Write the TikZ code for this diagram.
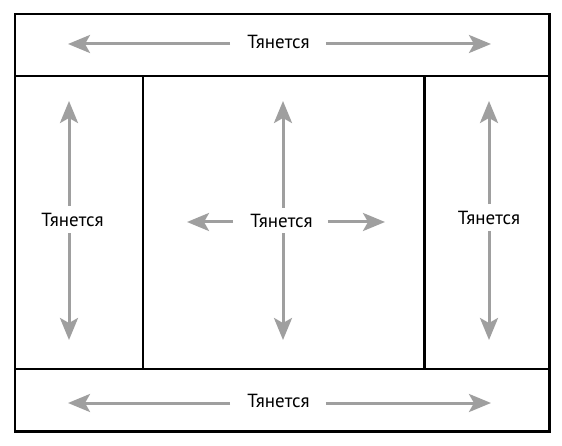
\documentclass[tikz,border=0pt]{standalone}
\usepackage{fontspec}
\setmainfont{PT Sans}
\usetikzlibrary{arrows.meta}
\begin{document}
\begin{tikzpicture}[x=1pt,y=-1pt,
  frame/.style={line width=2.6pt,black},
  stretch/.style={draw=gray!75,line width=3pt,-{Stealth[length=22pt,width=18pt,inset=5pt]}},
  lbl/.style={font=\fontsize{19}{22}\selectfont,inner sep=0pt,text=black}]
\useasboundingbox (0,0) rectangle (562,446);
% frames
\draw[frame] (15,14) rectangle (549.5,431.5);
\draw[frame] (15,76) -- (549.5,76);
\draw[frame] (15,369) -- (549.5,369);
\draw[frame] (143,76) -- (143,369);
\draw[frame] (424.5,76) -- (424.5,369);
% top
\node[lbl] (t) at (278.5,41.5) {Тянется};
\coordinate (tl) at (68,44);
\coordinate (tr) at (491,44);
\draw[stretch] ([xshift=-17pt]t.west |- tl) -- (tl);
\draw[stretch] ([xshift=16pt]t.east |- tr) -- (tr);
% bottom
\node[lbl] (b) at (278.5,400.5) {Тянется};
\coordinate (bl) at (68,403);
\coordinate (br) at (491,403);
\draw[stretch] ([xshift=-17pt]b.west |- bl) -- (bl);
\draw[stretch] ([xshift=16pt]b.east |- br) -- (br);
% left
\node[lbl] (l) at (72.5,219.5) {Тянется};
\coordinate (lt) at (69,101);
\coordinate (lb) at (69,340);
\draw[stretch] ([yshift=7pt]l.north -| lt) -- (lt);
\draw[stretch] ([yshift=-7pt]l.south -| lb) -- (lb);
% right
\node[lbl] (r) at (489,218) {Тянется};
\coordinate (rt) at (489,101);
\coordinate (rb) at (489,340);
\draw[stretch] ([yshift=7pt]r.north -| rt) -- (rt);
\draw[stretch] ([yshift=-6pt]r.south -| rb) -- (rb);
% center
\node[lbl] (c) at (281.5,220.5) {Тянется};
\coordinate (ct) at (283,101);
\coordinate (cb) at (283,340);
\coordinate (cl) at (187,222);
\coordinate (cr) at (385,222);
\draw[stretch] ([yshift=6pt]c.north -| ct) -- (ct);
\draw[stretch] ([yshift=-6pt]c.south -| cb) -- (cb);
\draw[stretch] ([xshift=-17pt]c.west |- cl) -- (cl);
\draw[stretch] ([xshift=15pt]c.east |- cr) -- (cr);
\end{tikzpicture}
\end{document}
